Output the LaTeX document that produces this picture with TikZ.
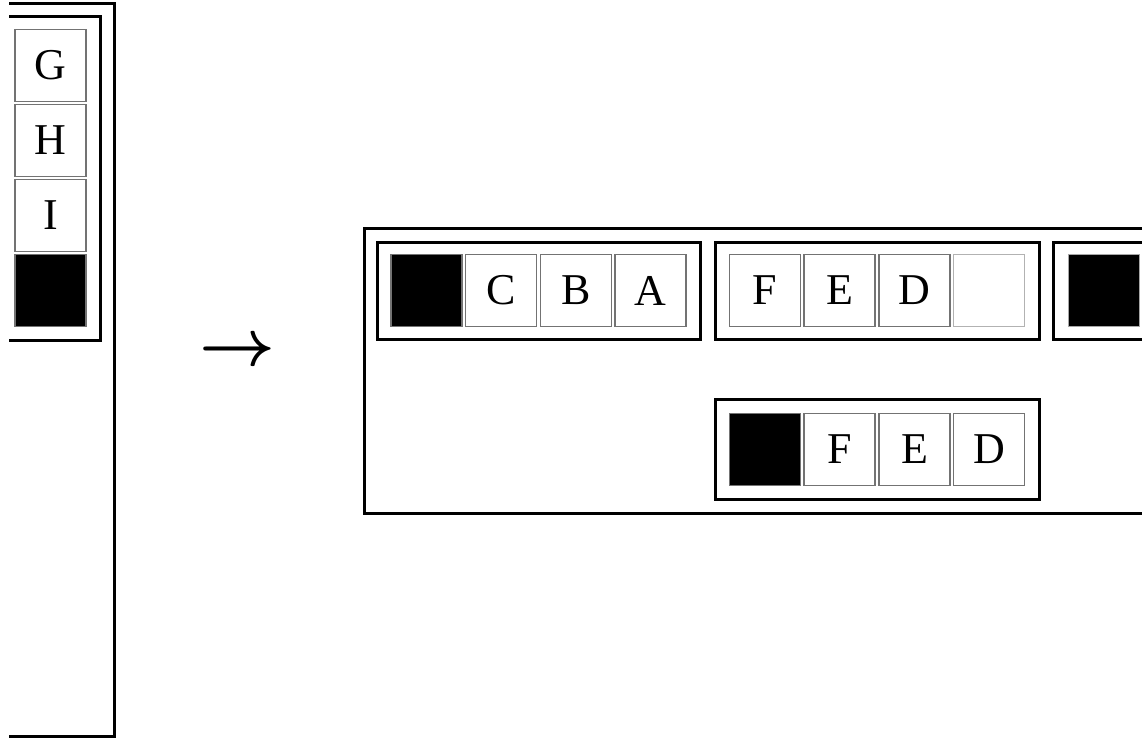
\documentclass[tikz,border=0pt]{standalone}
\usepackage{fontspec}
\setmainfont{Liberation Serif}
\begin{document}
\begin{tikzpicture}[x=1pt,y=-1pt,
  cell/.style={draw=black!55,line width=1.2pt,minimum width=71pt,minimum height=72pt,inner sep=0pt,font=\fontsize{44}{44}\selectfont},
  blk/.style={cell,fill=black},
  emp/.style={cell,draw=black!30},
  frame/.style={draw=black,line width=3pt},
  oframe/.style={draw=black,line width=3pt}]
\useasboundingbox (0,0) rectangle (1142,738);
% left panel
\draw[oframe] (9,4) -- (114,4) -- (114,736) -- (9,736);
\draw[frame] (9,17) -- (100,17) -- (100,340) -- (9,340);
\node[cell] (g) at (50.5,65.5) {G};
\node[cell] (h) at (50.5,140.5) {H};
\node[cell] (i) at (50.5,215.5) {I};
\node[blk] (lb) at (50.5,290.5) {};
% arrow
\node[inner sep=0pt] (arr) at (237,353) {\scalebox{6.6}{\boldmath$\rightarrow$}};
% right panel
\draw[oframe] (1142,228) -- (364,228) -- (364,513) -- (1142,513);
\draw[frame] (377,242) rectangle (700,339);
\node[blk] (b1) at (426.5,290.5) {};
\node[cell] (c) at (501,290.5) {C};
\node[cell] (b) at (576,290.5) {B};
\node[cell] (a) at (650.5,290.5) {A};
\draw[frame] (715,242) rectangle (1039,339);
\node[cell] (f1) at (765,290.5) {F};
\node[cell] (e1) at (839.5,290.5) {E};
\node[cell] (d1) at (914.5,290.5) {D};
\node[emp] (x1) at (989,290.5) {};
\draw[frame] (1145,242) -- (1053,242) -- (1053,339) -- (1145,339);
\node[blk,draw=black!35,anchor=west] (b3) at (1068,290.5) {};
\draw[frame] (715,399) rectangle (1039,499);
\node[blk] (b2) at (765,449.5) {};
\node[cell] (f2) at (839.5,449.5) {F};
\node[cell] (e2) at (914.5,449.5) {E};
\node[cell] (d2) at (989,449.5) {D};
\end{tikzpicture}
\end{document}
